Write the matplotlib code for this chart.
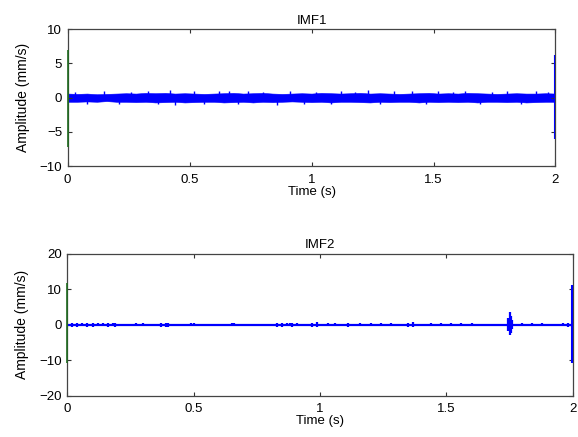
import matplotlib
matplotlib.use("Agg")
import matplotlib.pyplot as plt
import numpy as np

plt.rcParams["font.family"] = ["Liberation Sans", "DejaVu Sans"]
plt.rcParams["font.size"] = 8

BLUE = "#0000ff"
GREEN = "#1f6b1f"

# IMF1: envelope of the noise band, sampled every 0.04 s
imf1_t = np.linspace(0, 2, 51)
imf1_hi = [0.6, 0.55, 0.6, 0.5, 0.55, 0.6, 0.65, 0.6, 0.7, 0.65, 0.7, 0.6, 0.65,
           0.6, 0.55, 0.6, 0.65, 0.7, 0.6, 0.65, 0.7, 0.6, 0.55, 0.6, 0.65, 0.6,
           0.7, 0.65, 0.6, 0.65, 0.7, 0.6, 0.65, 0.6, 0.55, 0.6, 0.65, 0.7, 0.6,
           0.65, 0.6, 0.7, 0.65, 0.6, 0.55, 0.6, 0.65, 0.6, 0.6, 0.65, 0.6]
imf1_lo = [-0.6, -0.6, -0.55, -0.6, -0.5, -0.6, -0.6, -0.65, -0.6, -0.7, -0.65,
           -0.6, -0.7, -0.65, -0.6, -0.6, -0.7, -0.65, -0.6, -0.7, -0.6, -0.65,
           -0.6, -0.55, -0.6, -0.65, -0.6, -0.7, -0.6, -0.6, -0.65, -0.7, -0.6,
           -0.65, -0.6, -0.6, -0.7, -0.6, -0.65, -0.6, -0.65, -0.6, -0.7, -0.6,
           -0.6, -0.65, -0.6, -0.7, -0.65, -0.6, -0.6]
# IMF1: isolated peaks sticking out of the band
imf1_spk_t = [0.03, 0.08, 0.15, 0.21, 0.26, 0.33, 0.37, 0.42, 0.44, 0.52, 0.56,
              0.62, 0.66, 0.70, 0.74, 0.80, 0.86, 0.91, 0.97, 1.02, 1.08, 1.12,
              1.18, 1.23, 1.28, 1.34, 1.41, 1.47, 1.52, 1.58, 1.63, 1.69, 1.74,
              1.80, 1.86, 1.92, 1.97]
imf1_spk_v = [0.9, -0.9, 1.0, -0.95, 0.9, 1.0, -0.9, 1.1, -1.0, 0.95, -0.9,
              1.0, 0.95, -0.9, 1.0, 0.9, -1.0, 1.0, -0.9, 0.9, -0.9, 1.0,
              0.9, 1.1, -0.9, 0.95, 1.0, -0.9, 1.0, 0.9, 1.0, -0.95, 0.9,
              1.0, -0.9, 0.95, 0.9]
imf1_start = (-7.2, 7.0)
imf1_end = (-6.1, 6.2)

# IMF2: small bursts on a flat line
imf2_t = [0.02, 0.04, 0.06, 0.08, 0.10, 0.12, 0.14, 0.16, 0.18, 0.19, 0.27,
          0.30, 0.31, 0.37, 0.39, 0.40, 0.49, 0.50, 0.59, 0.65, 0.66, 0.69,
          0.83, 0.85, 0.87, 0.88, 0.89, 0.91, 0.97, 0.99, 1.03, 1.06, 1.11,
          1.16, 1.20, 1.24, 1.28, 1.35, 1.37, 1.44, 1.48, 1.52, 1.56, 1.60,
          1.67, 1.746, 1.750, 1.754, 1.758, 1.80, 1.84, 1.88, 1.96, 1.98]
imf2_hi = [0.5, 0.5, 0.4, 0.5, 0.5, 0.4, 0.4, 0.5, 0.4, 0.5, 0.4,
           0.4, 0.3, 0.5, 0.5, 0.5, 0.4, 0.4, 0.3, 0.4, 0.4, 0.3,
           0.5, 0.5, 0.4, 0.4, 0.5, 0.4, 0.5, 0.7, 0.4, 0.4, 0.6,
           0.4, 0.4, 0.4, 0.4, 0.5, 0.7, 0.4, 0.4, 0.4, 0.4, 0.4,
           0.3, 2.0, 3.6, 2.6, 1.5, 0.4, 0.4, 0.4, 0.4, 0.5]
imf2_lo = [-0.5, -0.5, -0.4, -0.5, -0.5, -0.4, -0.4, -0.5, -0.4, -0.5, -0.4,
           -0.4, -0.3, -0.5, -0.5, -0.5, -0.4, -0.4, -0.3, -0.4, -0.4, -0.3,
           -0.5, -0.5, -0.4, -0.4, -0.5, -0.4, -0.5, -0.7, -0.4, -0.4, -0.6,
           -0.4, -0.4, -0.4, -0.4, -0.5, -0.7, -0.4, -0.4, -0.4, -0.4, -0.4,
           -0.3, -1.8, -2.9, -2.2, -1.2, -0.4, -0.4, -0.4, -0.4, -0.5]
imf2_start = (-10.8, 11.8)
imf2_end = (-10.9, 11.2)


def style_axes(ax, title, ylim, yticks):
    ax.set_xlim(0, 2)
    ax.set_ylim(*ylim)
    ax.set_xticks([0, 0.5, 1, 1.5, 2])
    ax.set_xticklabels(["0", "0.5", "1", "1.5", "2"])
    ax.set_yticks(yticks)
    ax.tick_params(direction="in", length=3, top=True, right=True,
                   labelsize=9.5, color="#333333")
    ax.tick_params(axis="x", pad=5.5)
    ax.tick_params(axis="y", pad=4)
    for s in ax.spines.values():
        s.set_color("#444444")
        s.set_linewidth(0.9)
    ax.set_title(title, fontsize=9.5, pad=4)
    ax.set_xlabel("Time (s)", fontsize=9.5, labelpad=0)
    ax.set_ylabel("Amplitude (mm/s)", fontsize=10, labelpad=7)


fig = plt.figure(figsize=(5.78, 4.37), dpi=100)

ax1 = fig.add_axes([0.117, 0.620, 0.844, 0.313])
ax1.fill_between(imf1_t, imf1_lo, imf1_hi, color=BLUE, lw=0.4)
ax1.vlines(imf1_spk_t, 0, imf1_spk_v, color=BLUE, lw=1.0)
ax1.vlines([0], *imf1_start, color=GREEN, lw=1.2, zorder=3, clip_on=False)
ax1.vlines([1.997], *imf1_end, color=BLUE, lw=1.5, zorder=3)
style_axes(ax1, "IMF1", (-10, 10), [-10, -5, 0, 5, 10])

ax2 = fig.add_axes([0.1164, 0.0945, 0.8744, 0.3243])
ax2.plot([0, 2], [0, 0], color=BLUE, lw=1.6)
ax2.vlines(imf2_t, imf2_lo, imf2_hi, color=BLUE, lw=1.6)
ax2.vlines([0], *imf2_start, color=GREEN, lw=1.2, zorder=3, clip_on=False)
ax2.vlines([1.997], *imf2_end, color=BLUE, lw=1.5, zorder=3)
style_axes(ax2, "IMF2", (-20, 20), [-20, -10, 0, 10, 20])

fig.savefig("out.png", dpi=100)
